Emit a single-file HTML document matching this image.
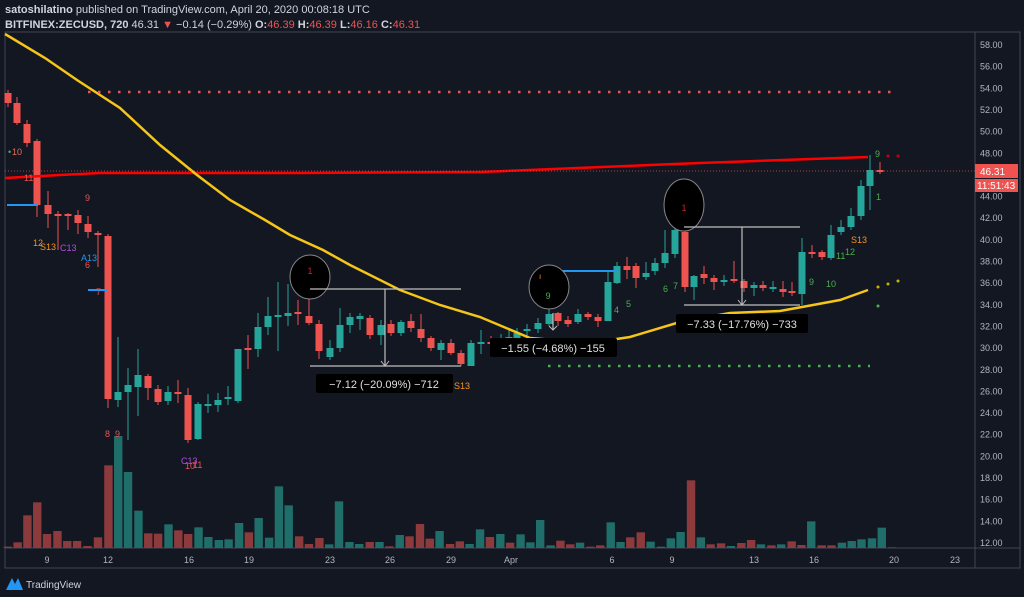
<!DOCTYPE html>
<html><head><meta charset="utf-8"><style>
body{margin:0;background:#131722;width:1024px;height:597px;overflow:hidden;font-family:"Liberation Sans",sans-serif}
svg{position:absolute;left:0;top:0}
</style></head><body>
<svg id="s" width="1024" height="597" xmlns="http://www.w3.org/2000/svg" font-family="Liberation Sans, sans-serif">
<rect width="1024" height="597" fill="#131722"/>
<text x="5" y="13" font-size="11" fill="#d1d4dc"><tspan font-weight="bold">satoshilatino</tspan> published on TradingView.com, April 20, 2020 00:08:18 UTC</text>
<text x="5" y="28" font-size="11" fill="#d1d4dc"><tspan font-weight="bold">BITFINEX:ZECUSD, 720</tspan> 46.31 <tspan fill="#ef5350">▼</tspan> −0.14 (−0.29%) <tspan font-weight="bold">O:</tspan><tspan fill="#ef5350">46.39</tspan> <tspan font-weight="bold">H:</tspan><tspan fill="#ef5350">46.39</tspan> <tspan font-weight="bold">L:</tspan><tspan fill="#ef5350">46.16</tspan> <tspan font-weight="bold">C:</tspan><tspan fill="#ef5350">46.31</tspan></text>
<rect x="5" y="32" width="1015" height="536" fill="none" stroke="#434651" stroke-width="1"/>
<line x1="975" y1="32" x2="975" y2="568" stroke="#434651"/>
<line x1="5" y1="548" x2="1020" y2="548" stroke="#434651"/>
<g id="vol"></g>
<g id="cd"></g>
<!-- MAs -->
<polyline fill="none" stroke="#ff0000" stroke-width="2.5" points="5,178 60,175 100,173 300,173 480,172 700,163 868,157"/>
<polyline fill="none" stroke="#f5c518" stroke-width="2.5" points="5,34 45,58 77,80 100,95 120,108 160,145 197,175 230,200 265,220 290,235 323,250 350,265 400,290 440,305 480,317 530,338 590,343 630,337 680,322 730,313 780,311 813,305 840,300 868,290"/>
<line x1="5" y1="171" x2="975" y2="171" stroke="#ef5350" stroke-width="1" stroke-dasharray="1,2" opacity="0.7"/>
<line x1="88" y1="92" x2="898" y2="92" stroke="#ef5350" stroke-width="2.5" stroke-dasharray="2.5,7.5"/>
<line x1="548" y1="366" x2="870" y2="366" stroke="#4caf50" stroke-width="2.5" stroke-dasharray="2.5,7.5"/>
<line x1="7" y1="205" x2="38" y2="205" stroke="#2196f3" stroke-width="2"/>
<line x1="88" y1="290" x2="108" y2="290" stroke="#2196f3" stroke-width="2"/>
<line x1="548" y1="271" x2="618" y2="271" stroke="#2196f3" stroke-width="2"/>
<circle cx="878" cy="287" r="1.5" fill="#c8b400"/><circle cx="888" cy="284" r="1.5" fill="#c8b400"/><circle cx="898" cy="281" r="1.5" fill="#c8b400"/>
<circle cx="878" cy="306" r="1.5" fill="#4caf50"/><circle cx="888" cy="156" r="1.5" fill="#c00"/><circle cx="898" cy="156" r="1.5" fill="#c00"/>
<!-- circles -->
<ellipse cx="310" cy="277" rx="20" ry="22" fill="#000" stroke="#888"/>
<ellipse cx="549" cy="287" rx="20" ry="22" fill="#000" stroke="#888"/>
<ellipse cx="684" cy="205" rx="20" ry="26" fill="#000" stroke="#888"/>
<g font-size="9" fill="#c62828" text-anchor="middle"><text x="310" y="274">1</text><text x="684" y="211">1</text></g>
<text x="548" y="299" font-size="9" fill="#4caf50" text-anchor="middle">9</text>
<text x="539" y="279" font-size="8" fill="#f7931a">ı</text>
<!-- measures -->
<g stroke="#c0c0c0" stroke-width="1.2">
<line x1="310" y1="289" x2="461" y2="289"/><line x1="310" y1="366" x2="461" y2="366"/><line x1="385" y1="289" x2="385" y2="366"/>
<line x1="684" y1="227" x2="800" y2="227"/><line x1="684" y1="305" x2="800" y2="305"/><line x1="742" y1="227" x2="742" y2="305"/>
<line x1="553" y1="313" x2="553" y2="330"/>
</g>
<g fill="none" stroke="#c0c0c0"><polyline points="381,361 385,366 389,361"/><polyline points="738,300 742,305 746,300"/><polyline points="549,326 553,330 557,326"/></g>
<rect x="316" y="374" width="137" height="19" rx="2" fill="#000"/>
<text x="384" y="388" font-size="11" fill="#e0e0e0" text-anchor="middle">−7.12 (−20.09%) −712</text>
<rect x="490" y="338" width="127" height="19" rx="2" fill="#000"/>
<text x="553" y="352" font-size="11" fill="#e0e0e0" text-anchor="middle">−1.55 (−4.68%) −155</text>
<rect x="676" y="314" width="132" height="19" rx="2" fill="#000"/>
<text x="742" y="328" font-size="11" fill="#e0e0e0" text-anchor="middle">−7.33 (−17.76%) −733</text>
<!-- TD labels -->
<g font-size="9">
<text x="8" y="155" fill="#4caf50">•</text><text x="12" y="155" fill="#ef6c5a">10</text>
<text x="24" y="181" fill="#ef5350">11</text>
<text x="33" y="246" fill="#f7931a">12</text><text x="40" y="250" fill="#f7931a">S13</text>
<text x="60" y="251" fill="#b04fd8">C13</text>
<text x="85" y="201" fill="#ef5350">9</text>
<text x="81" y="261" fill="#2196f3">A13</text><text x="85" y="268" fill="#ef5350">6</text>
<text x="96" y="295" fill="#ef5350">7</text>
<text x="105" y="437" fill="#ef5350">8</text><text x="115" y="437" fill="#ef5350">9</text>
<text x="181" y="464" fill="#b04fd8">C13</text><text x="185" y="469" fill="#ef5350">10</text><text x="193" y="468" fill="#ef5350">11</text>
<text x="454" y="389" fill="#f7931a">S13</text>
<text x="614" y="313" fill="#4caf50">4</text><text x="626" y="307" fill="#4caf50">5</text>
<text x="663" y="292" fill="#4caf50">6</text><text x="673" y="289" fill="#4caf50">7</text>
<text x="809" y="285" fill="#4caf50">9</text><text x="826" y="287" fill="#4caf50">10</text>
<text x="836" y="259" fill="#4caf50">11</text><text x="845" y="255" fill="#4caf50">12</text>
<text x="851" y="243" fill="#f7931a">S13</text>
<text x="875" y="157" fill="#4caf50">9</text><text x="876" y="200" fill="#4caf50">1</text>
</g>
<!-- y axis -->
<g font-size="9" fill="#b2b5be" id="ya"></g>
<rect x="975" y="164" width="43" height="14" fill="#ef5350"/>
<text x="980" y="175" font-size="10" fill="#fff">46.31</text>
<rect x="975" y="179" width="43" height="13" fill="#ef5350"/>
<text x="977" y="189" font-size="10" fill="#fff">11:51:43</text>
<!-- x axis -->
<g font-size="9" fill="#b2b5be" text-anchor="middle">
<text x="47" y="563">9</text><text x="108" y="563">12</text><text x="189" y="563">16</text><text x="249" y="563">19</text><text x="330" y="563">23</text><text x="390" y="563">26</text><text x="451" y="563">29</text><text x="511" y="563">Apr</text><text x="612" y="563">6</text><text x="672" y="563">9</text><text x="754" y="563">13</text><text x="814" y="563">16</text><text x="894" y="563">20</text><text x="955" y="563">23</text>
</g>
<path d="M6,590 L12,578 L15,584 L18,578 L23,590 Z" fill="#2196f3"/>
<text x="26" y="588" font-size="10" fill="#d1d4dc">TradingView</text>
</svg>
<script>
var NS="http://www.w3.org/2000/svg";
function el(p,t,a){var e=document.createElementNS(NS,t);for(var k in a)e.setAttribute(k,a[k]);p.appendChild(e);return e;}
var ya=document.getElementById('ya');
for(var v=12;v<=58;v+=2){var y=45+(58-v)*10.826;if(Math.abs(y-171)<8||Math.abs(y-185)<8)continue;var t=el(ya,'text',{x:980,y:y+3});t.textContent=v.toFixed(2);}
var vz=[[12,320,'r'],[27,307,'r'],[42,226,'r'],[57,187,'r'],[72,282,'r'],[88,273,'r'],[103,303,'r'],[118,303,'r'],[134,318,'r'],[150,292,'r'],[166,76,'r'],[181,-12,'g'],[196,96,'g'],[212,212,'g'],[227,280,'r'],[242,281,'r'],[258,253,'g'],[273,271,'r'],[288,282,'r'],[304,262,'g'],[319,291,'g'],[335,300,'g'],[350,298,'g'],[366,249,'g'],[381,277,'r'],[396,234,'g'],[412,293,'g'],[427,139,'g'],[442,196,'g'],[458,289,'r'],[473,312,'r'],[489,294,'r'],[504,313,'g'],[519,184,'g'],[535,306,'g'],[550,312,'g'],[566,306,'r'],[581,306,'g'],[596,319,'r'],[612,285,'g'],[627,289,'r'],[643,252,'r'],[658,296,'r'],[673,273,'g'],[689,312,'r'],[704,304,'r'],[719,312,'g'],[735,268,'g'],[750,291,'r'],[766,282,'g'],[781,308,'r'],[797,283,'g'],[812,307,'g'],[827,240,'g'],[843,316,'g'],[858,302,'r'],[873,313,'r'],[888,308,'g'],[904,320,'r'],[919,316,'r'],[935,247,'g'],[950,306,'g'],[965,292,'r'],[981,277,'r'],[996,305,'g'],[1012,320,'g'],[1027,295,'g'],[1042,276,'g'],[1058,121,'r'],[1073,292,'g'],[1088,313,'r'],[1104,310,'r'],[1119,318,'g'],[1135,309,'r'],[1150,300,'r'],[1165,313,'g'],[1181,316,'r'],[1196,313,'g'],[1212,304,'r'],[1227,315,'r'],[1242,244,'g'],[1258,316,'r'],[1273,316,'r'],[1289,308,'g'],[1304,303,'g'],[1319,298,'g'],[1335,295,'g'],[1350,263,'g'],[1366,322,'r']];
var vg=document.getElementById('vol');
vz.forEach(function(b){var x=b[0]/1.531,y=440+b[1]/3;el(vg,'rect',{x:x-4.2,y:y,width:8.4,height:548-y,fill:b[2]=='g'?'#1f6e69':'#8c3a3c'});});
var C=[[8,93,103,90,107,'r'],[17,103,123,97,125,'r'],[27,124,143,120,147,'r'],[37,141,205,139,217,'r'],[48,205,214,191,228,'r'],[58,214,216,211,250,'r'],[68,214,216,213,230,'r'],[78,215,223,210,234,'r'],[88,224,232,216,238,'r'],[98,233,235,231,267,'r'],[108,236,399,234,408,'r'],[118,392,400,337,407,'g'],[128,385,392,368,440,'g'],[138,375,387,349,416,'g'],[148,376,388,374,400,'r'],[158,389,402,385,405,'r'],[168,392,401,386,405,'g'],[178,392,394,380,403,'r'],[188,395,440,388,443,'r'],[198,404,439,402,440,'g'],[208,404,406,394,413,'g'],[218,400,405,393,412,'g'],[228,397,399,386,405,'g'],[238,349,401,349,403,'g'],[248,348,350,335,369,'r'],[258,327,349,313,357,'g'],[268,316,327,297,335,'g'],[278,315,317,282,351,'g'],[288,313,316,284,326,'g'],[298,312,314,300,325,'r'],[309,316,323,289,325,'r'],[319,324,351,320,359,'r'],[330,348,357,340,360,'g'],[340,325,348,308,352,'g'],[350,317,325,313,333,'g'],[360,316,319,313,330,'g'],[370,318,335,315,339,'r'],[381,325,335,320,345,'g'],[391,324,333,320,336,'r'],[401,322,333,320,336,'g'],[411,321,328,314,332,'r'],[421,329,338,314,342,'r'],[431,338,348,336,351,'r'],[441,343,350,340,360,'g'],[451,343,353,339,355,'r'],[461,353,364,350,366,'r'],[471,343,366,340,366,'g'],[481,342,344,330,354,'g'],[491,342,344,336,350,'r'],[501,340,342,334,346,'g'],[509,337,342,330,345,'g'],[517,333,338,328,342,'g'],[527,329,331,324,336,'g'],[538,323,329,318,333,'g'],[549,314,324,302,326,'g'],[558,313,321,312,326,'r'],[568,320,324,316,327,'r'],[578,314,322,309,324,'g'],[588,314,317,312,320,'r'],[598,317,321,314,327,'r'],[608,282,321,272,321,'g'],[617,266,283,262,284,'g'],[627,266,270,257,279,'r'],[636,266,278,263,288,'r'],[646,273,277,262,280,'g'],[655,263,271,258,275,'g'],[665,253,263,230,268,'g'],[675,230,254,218,258,'g'],[685,232,287,230,292,'r'],[694,276,287,275,300,'g'],[704,274,278,266,284,'r'],[714,278,282,275,290,'r'],[724,280,282,275,286,'g'],[734,279,281,261,283,'r'],[744,281,288,279,292,'r'],[754,285,288,282,296,'g'],[763,285,288,281,291,'r'],[773,287,289,281,292,'g'],[783,289,292,281,297,'r'],[792,291,293,282,296,'r'],[802,252,294,238,305,'g'],[812,252,254,245,258,'r'],[822,252,257,250,260,'r'],[831,235,258,225,260,'g'],[841,227,232,220,235,'g'],[851,216,227,208,230,'g'],[861,186,216,180,220,'g'],[870,170,186,155,210,'g'],[880,170,172,162,174,'r']];
var cg=document.getElementById('cd');
C.forEach(function(c){var col=c[5]=='g'?'#26a69a':'#ef5350';el(cg,'line',{x1:c[0],y1:c[3],x2:c[0],y2:c[4],stroke:col,'stroke-width':1});el(cg,'rect',{x:c[0]-3.5,y:c[1],width:7,height:Math.max(1.5,c[2]-c[1]),fill:col});});
</script>
</body></html>
